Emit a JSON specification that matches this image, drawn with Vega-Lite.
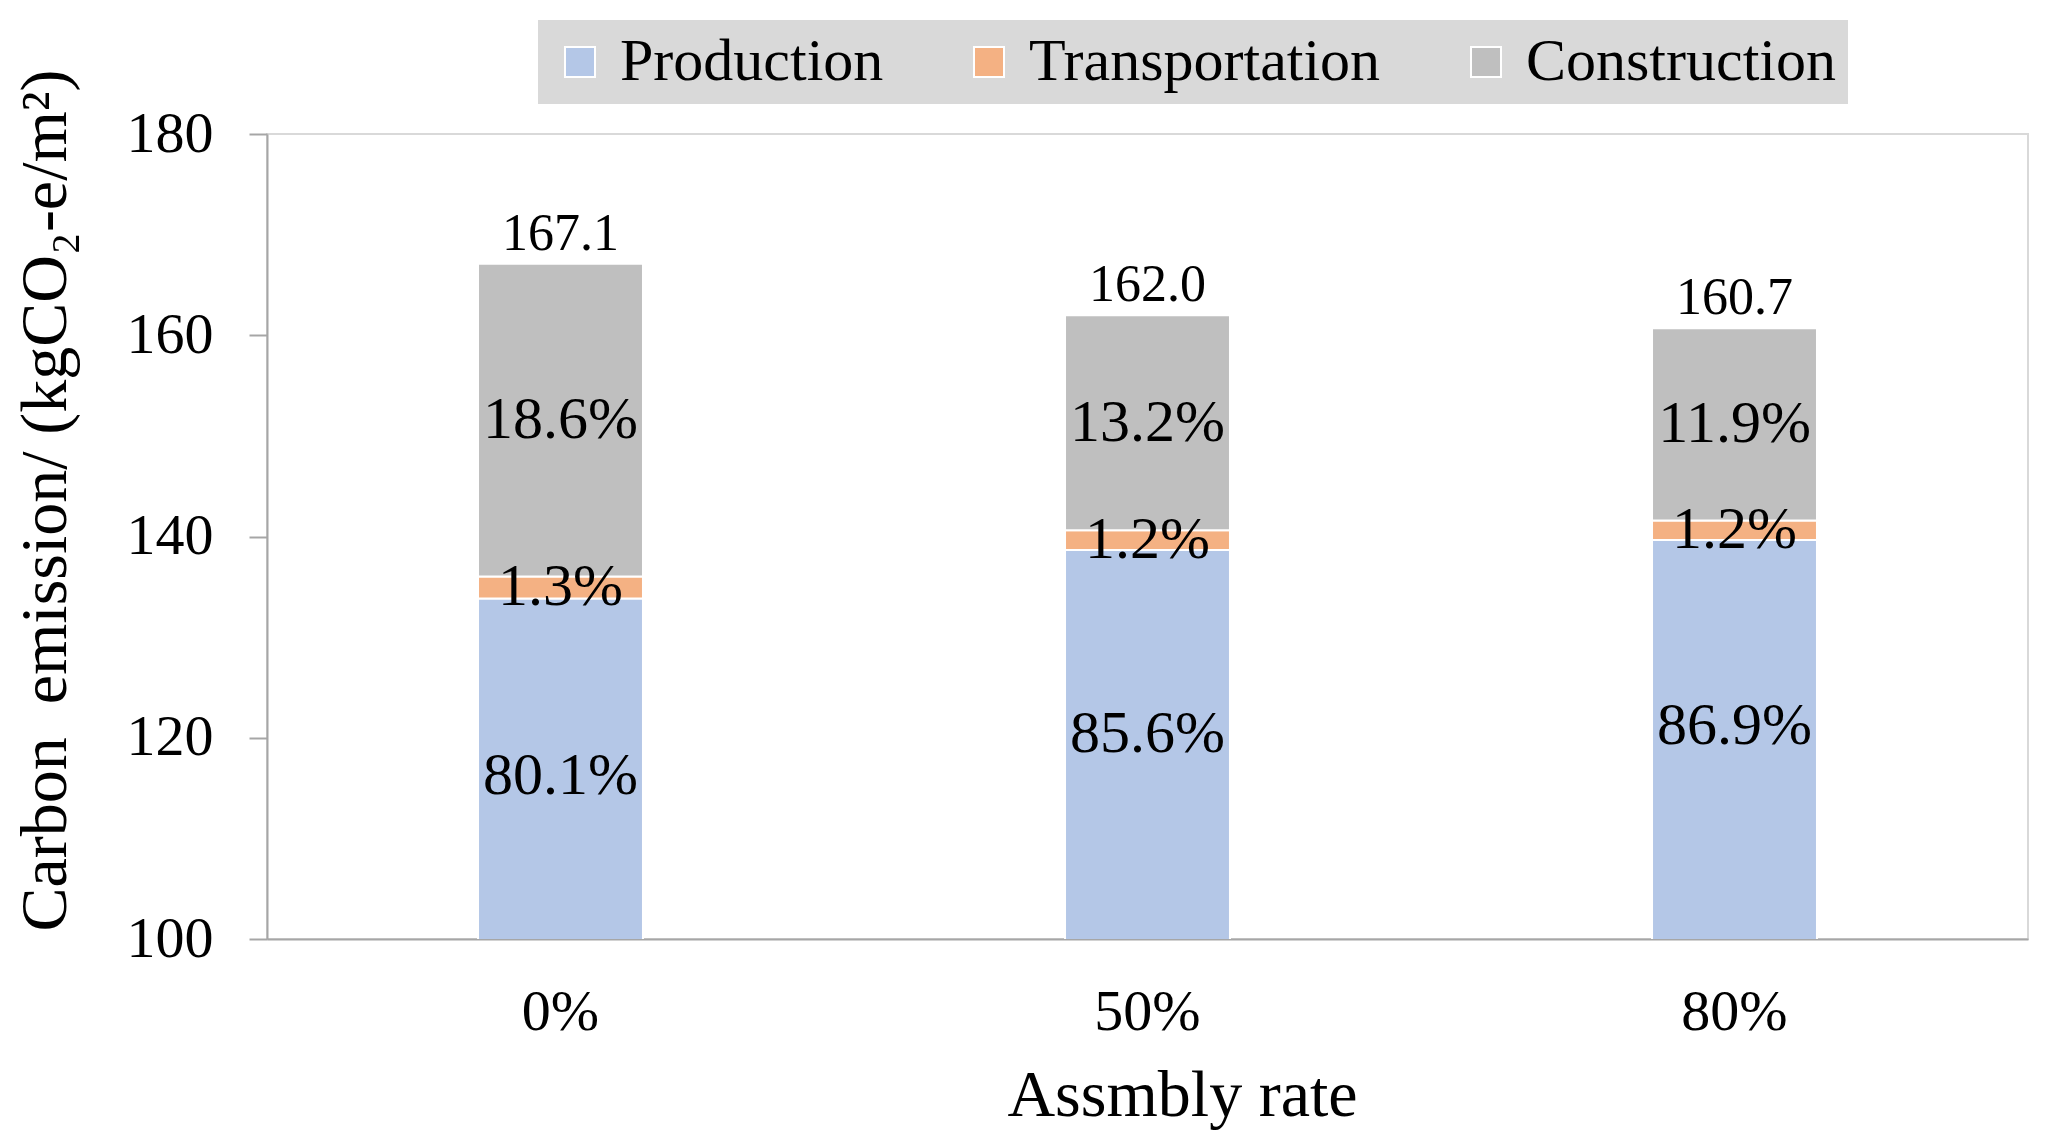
{
  "$schema": "https://vega.github.io/schema/vega-lite/v6.json",
  "width": 1761,
  "height": 805,
  "autosize": {"type": "none"},
  "padding": {"left": 267, "top": 134, "right": 17, "bottom": 204},
  "background": "white",
  "config": {
    "font": "Liberation Serif",
    "view": {"stroke": "#d9d9d9", "strokeWidth": 2},
    "axis": {"grid": false, "labelColor": "black", "titleColor": "black", "titleFontWeight": "normal", "domainColor": "#a6a6a6", "domainWidth": 2, "tickColor": "#a6a6a6", "tickWidth": 2}
  },
  "data": {
    "values": [
      {"rate": "0%", "stage": "Production", "rank": 1, "value": 133.85, "pct": 0.801},
      {"rate": "0%", "stage": "Transportation", "rank": 2, "value": 2.17, "pct": 0.013},
      {"rate": "0%", "stage": "Construction", "rank": 3, "value": 31.08, "pct": 0.186},
      {"rate": "50%", "stage": "Production", "rank": 1, "value": 138.67, "pct": 0.856},
      {"rate": "50%", "stage": "Transportation", "rank": 2, "value": 1.94, "pct": 0.012},
      {"rate": "50%", "stage": "Construction", "rank": 3, "value": 21.39, "pct": 0.132},
      {"rate": "80%", "stage": "Production", "rank": 1, "value": 139.65, "pct": 0.869},
      {"rate": "80%", "stage": "Transportation", "rank": 2, "value": 1.93, "pct": 0.012},
      {"rate": "80%", "stage": "Construction", "rank": 3, "value": 19.12, "pct": 0.119}
    ]
  },
  "encoding": {
    "x": {
      "field": "rate",
      "type": "nominal",
      "sort": ["0%", "50%", "80%"],
      "scale": {"paddingInner": 0.719, "paddingOuter": 0.3595},
      "axis": {
        "title": "Assmbly rate",
        "titleFontSize": 66,
        "titleX": 915,
        "titleY": 176,
        "titleBaseline": "alphabetic",
        "titleAlign": "center",
        "labelFontSize": 58,
        "labelAngle": 0,
        "labelBaseline": "alphabetic",
        "ticks": false,
        "tickSize": 0,
        "labelPadding": 90
      }
    }
  },
  "layer": [
    {
      "mark": {"type": "bar", "clip": true, "stroke": "white", "strokeWidth": 2},
      "encoding": {
        "y": {
          "field": "value",
          "type": "quantitative",
          "stack": "zero",
          "scale": {"domain": [100, 180], "nice": false, "zero": false},
          "axis": {
            "title": "Carbon\u00a0 emission/ (kgCO\u2082-e/m\u00b2)",
            "titleFontSize": 66,
            "titleAngle": 270,
            "titleX": -202,
            "titleY": 366,
            "titleBaseline": "alphabetic",
            "titleAlign": "center",
            "values": [100, 120, 140, 160, 180],
            "labelFontSize": 58,
            "labelBaseline": "middle",
            "tickSize": 18,
            "labelPadding": 36
          }
        },
        "color": {
          "field": "stage",
          "type": "nominal",
          "scale": {"domain": ["Production", "Transportation", "Construction"], "range": ["#b4c7e7", "#f4b183", "#bfbfbf"]},
          "legend": {
            "orient": "none",
            "legendX": 271,
            "legendY": -114,
            "direction": "horizontal",
            "title": null,
            "fillColor": "#d9d9d9",
            "padding": 12,
            "symbolType": "square",
            "symbolSize": 900,
            "symbolStrokeColor": "white",
            "symbolStrokeWidth": 2,
            "labelFontSize": 60,
            "labelColor": "black",
            "labelOffset": 10,
            "columnPadding": 75,
            "labelLimit": 0
          }
        },
        "order": {"field": "rank", "type": "quantitative"}
      }
    },
    {
      "mark": {"type": "text", "fontSize": 60, "baseline": "middle", "color": "black"},
      "encoding": {
        "y": {"field": "value", "type": "quantitative", "stack": "zero", "bandPosition": 0.5},
        "detail": {"field": "stage", "type": "nominal"},
        "order": {"field": "rank", "type": "quantitative"},
        "text": {"field": "pct", "type": "quantitative", "format": ".1%"},
        "opacity": {"condition": {"test": "datum.stage === 'Production'", "value": 0}, "value": 1}
      }
    },
    {
      "transform": [{"filter": "datum.stage === 'Production'"}],
      "mark": {"type": "text", "fontSize": 60, "baseline": "middle", "color": "black"},
      "encoding": {
        "y": {"field": "value", "type": "quantitative", "stack": "zero", "bandPosition": 0.868},
        "detail": {"field": "stage", "type": "nominal"},
        "text": {"field": "pct", "type": "quantitative", "format": ".1%"}
      }
    },
    {
      "mark": {"type": "text", "fontSize": 52, "baseline": "alphabetic", "dy": -14, "color": "black"},
      "encoding": {
        "y": {"aggregate": "sum", "field": "value", "type": "quantitative"},
        "text": {"aggregate": "sum", "field": "value", "type": "quantitative", "format": ".1f"}
      }
    }
  ]
}
